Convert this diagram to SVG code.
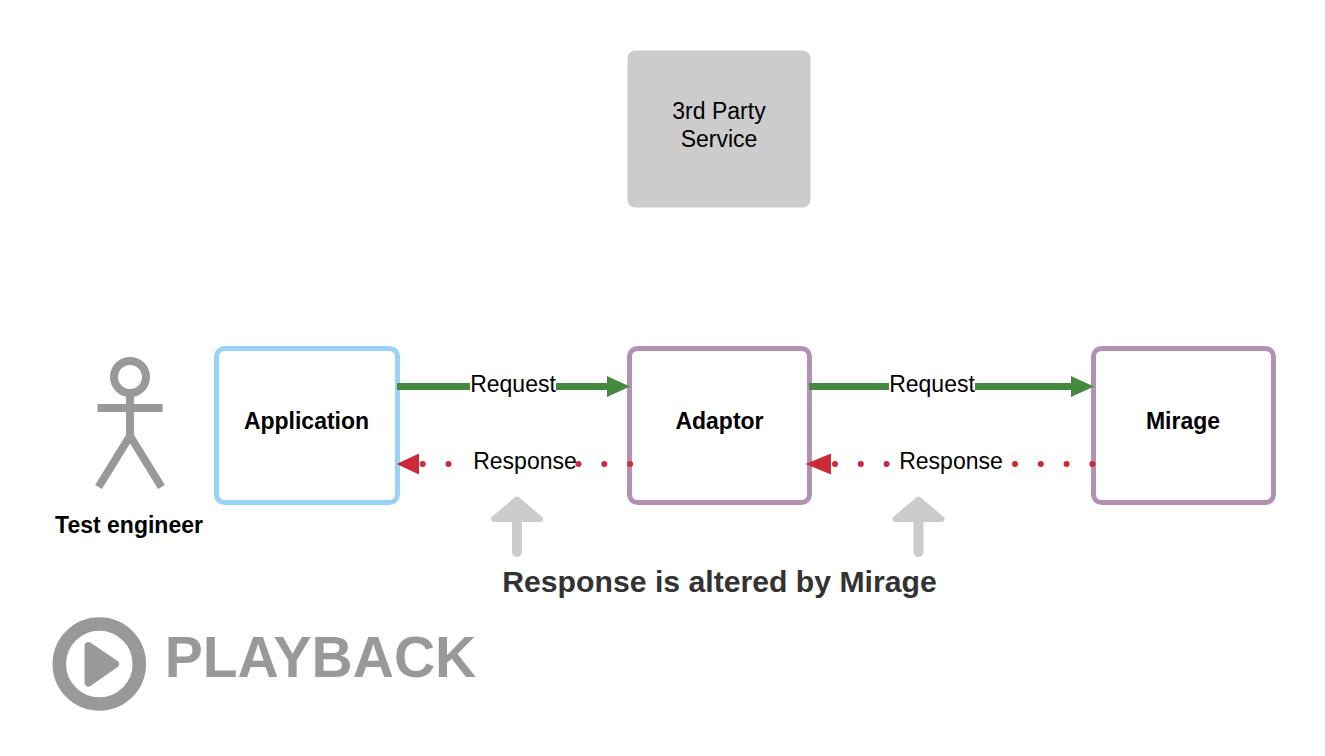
<svg xmlns="http://www.w3.org/2000/svg" width="1325" height="756" viewBox="0 0 1325 756">
<style>
text{font-family:"Liberation Sans",Arial,sans-serif;text-anchor:middle}
.box{fill:#fff;stroke-width:5}
.purple{stroke:#b391b5}
.blue{stroke:#99d2f8}
.b{font-weight:bold;font-size:23px;fill:#000}
.lab{font-size:23px;fill:#000}
.req{stroke:#45883f;stroke-width:7;fill:none}
.green{fill:#45883f}
.red{fill:#cc2a3a}
.resp{stroke:#cc2a3a;stroke-width:6;stroke-linecap:round;stroke-dasharray:0 25.8;fill:none}
.up{fill:#cccccc;stroke:#cccccc;stroke-width:6;stroke-linejoin:round}
.shaft{fill:none;stroke:#cccccc;stroke-width:10;stroke-linecap:round}
.actor{stroke:#999;stroke-width:8;fill:none}
</style>
<rect width="1325" height="756" fill="#fff"/>
<g id="third-party"><rect x="627.500" y="50.500" width="183" height="157" rx="8" fill="#cccccc"/><text class="lab" x="719" y="119">3rd Party</text><text class="lab" x="719" y="146.500">Service</text></g>
<g id="actor"><circle class="actor" cx="130" cy="377" r="16"/><path class="actor" d="M130 393V436M97.500 408H162.500M130 436L98.500 487M130 436L161.500 487"/><text class="b" x="129" y="533">Test engineer</text></g>
<g id="application"><rect class="box blue" x="216.500" y="348.500" width="181" height="154" rx="8"/><text class="b" x="306.500" y="429">Application</text></g>
<g id="adaptor"><rect class="box purple" x="629.500" y="348.500" width="180" height="154" rx="8"/><text class="b" x="719.500" y="429">Adaptor</text></g>
<g id="mirage"><rect class="box purple" x="1093.500" y="348.500" width="180" height="154" rx="8"/><text class="b" x="1183" y="429">Mirage</text></g>
<g id="connectors">
<path class="req" d="M397 386.500H470M556 386.500H610"/><polygon class="green" points="607,376 630,386.500 607,397"/>
<path class="req" d="M809 386.500H889M975 386.500H1074"/><polygon class="green" points="1071,376 1094,386.500 1071,397"/>
<path class="resp" d="M422.700 464H474M578.500 464H632"/><polygon class="red" points="396.500,464 419,453.500 419,474.500"/>
<path class="resp" d="M835 464H890M1015 464H1096"/><polygon class="red" points="805.500,464 831,453.500 831,474.500"/>
</g>
<text class="lab" x="513" y="391.500">Request</text>
<text class="lab" x="932" y="391.500">Request</text>
<text class="lab" x="525" y="468.500">Response</text>
<text class="lab" x="951" y="468.500">Response</text>
<g id="up-arrows"><g id="u1"><polygon class="up" points="517,499.500 540,519 494,519"/><path class="shaft" d="M517 519V552"/></g><g id="u2"><polygon class="up" points="918.500,499.500 941.500,519 895.500,519"/><path class="shaft" d="M918.500 519V552"/></g></g>
<g id="note"><text x="719.500" y="591.500" font-size="30.200" font-weight="bold" fill="#333">Response is altered by Mirage</text></g>
<g id="playback"><circle cx="99.300" cy="664" r="40" fill="none" stroke="#999" stroke-width="13.500"/><path d="M88.500 646L115 664L88.500 682.500Z" fill="#999" stroke="#999" stroke-width="8" stroke-linejoin="round"/><text x="320.500" y="676.500" font-size="57" font-weight="bold" fill="#999">PLAYBACK</text></g>
</svg>
